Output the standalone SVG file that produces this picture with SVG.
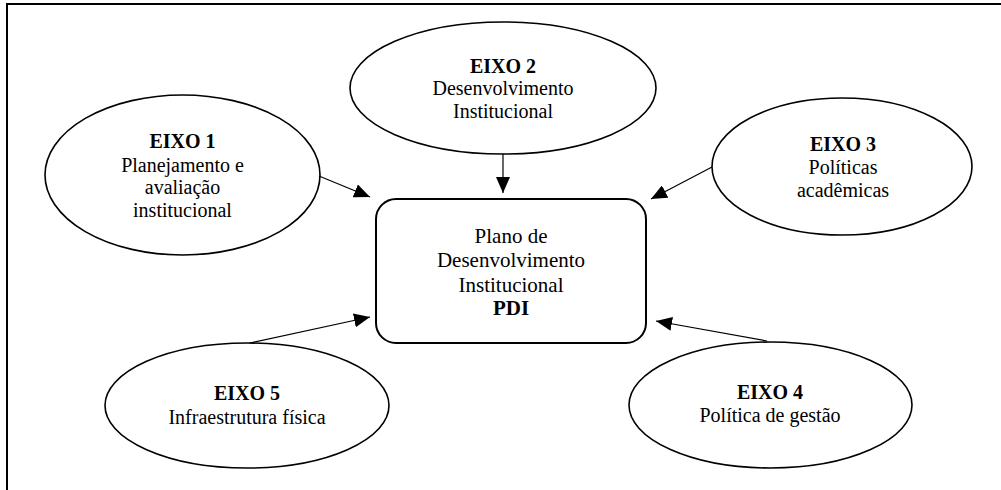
<svg xmlns="http://www.w3.org/2000/svg" width="1001" height="490" viewBox="0 0 1001 490">
<style>
.frame{fill:none;stroke:#000;stroke-width:2}
.ell{fill:#fff;stroke:#000;stroke-width:1.6}
.box{fill:#fff;stroke:#000;stroke-width:2}
text{font-family:'Liberation Serif','Times New Roman','DejaVu Serif',serif;font-size:20px;fill:#000;text-anchor:middle}
.tb{font-size:21px}
.b{font-weight:bold}
.conn line{stroke:#000;stroke-width:1.2;marker-end:url(#ah)}
</style>
<defs>
<marker id="ah" markerUnits="userSpaceOnUse" markerWidth="16" markerHeight="14" refX="16" refY="7" orient="auto">
<path d="M0,0 L16,7 L0,14 z" fill="#000"/>
</marker>
</defs>
<path class="frame" d="M7,490 L7,4 L1001,4"/>
<g id="pdi" font-family="Liberation Serif, serif">
<rect class="box" x="376" y="199" width="270" height="144" rx="20" ry="20"/>
<text class="tb" x="511" y="243">Plano de</text>
<text class="tb" x="511" y="267">Desenvolvimento</text>
<text class="tb" x="511" y="292">Institucional</text>
<text class="tb b" x="511" y="315">PDI</text>
</g>
<g id="eixo1">
<ellipse class="ell" cx="182.5" cy="175" rx="137.5" ry="80"/>
<text class="b" x="182.5" y="148">EIXO 1</text>
<text x="182.5" y="172">Planejamento e</text>
<text x="182.5" y="194">avaliação</text>
<text x="182.5" y="217">institucional</text>
</g>
<g id="eixo2">
<ellipse class="ell" cx="503" cy="88" rx="153" ry="66"/>
<text class="b" x="503" y="73">EIXO 2</text>
<text x="503" y="95">Desenvolvimento</text>
<text x="503" y="118">Institucional</text>
</g>
<g id="eixo3">
<ellipse class="ell" cx="842" cy="166.5" rx="130" ry="68.5"/>
<text class="b" x="843" y="151">EIXO 3</text>
<text x="843" y="174">Políticas</text>
<text x="843" y="197">acadêmicas</text>
</g>
<g id="eixo4">
<ellipse class="ell" cx="770.5" cy="405" rx="141.5" ry="63"/>
<text class="b" x="770" y="399">EIXO 4</text>
<text x="770" y="422">Política de gestão</text>
</g>
<g id="eixo5">
<ellipse class="ell" cx="247" cy="405.5" rx="142" ry="62.5"/>
<text class="b" x="247" y="400">EIXO 5</text>
<text x="247" y="424">Infraestrutura física</text>
</g>
<g id="connectors" class="conn">
<line x1="319" y1="176" x2="370" y2="197"/>
<line x1="503" y1="154" x2="503" y2="193"/>
<line x1="712" y1="167" x2="651" y2="199"/>
<line x1="767" y1="341" x2="656" y2="321"/>
<line x1="250" y1="343" x2="370" y2="317"/>
</g>
</svg>
